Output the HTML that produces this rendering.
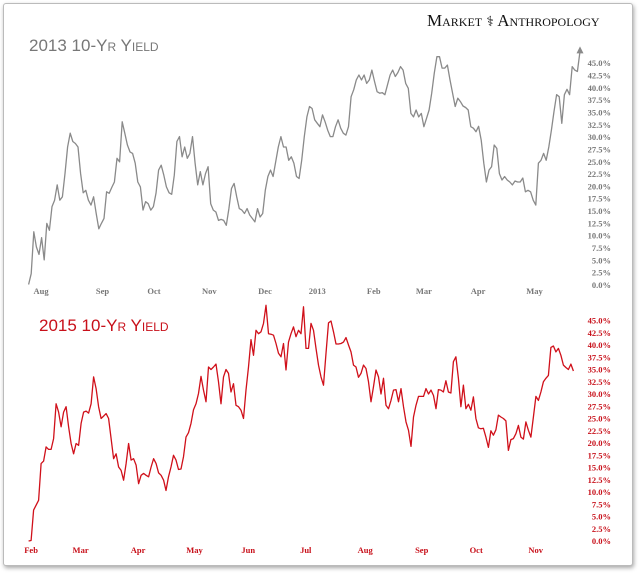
<!DOCTYPE html>
<html><head><meta charset="utf-8">
<style>
html,body{margin:0;padding:0;background:#fff;}
body{width:640px;height:573px;overflow:hidden;position:relative;font-family:"Liberation Sans",sans-serif;}
#frame{position:absolute;left:3px;top:3px;width:628px;height:561px;border:1px solid #bbb;border-radius:3px;box-shadow:1px 2px 4px rgba(0,0,0,0.35);background:#fff;}
svg{position:absolute;left:0;top:0;}
</style></head>
<body>
<div id="frame"></div>
<svg id="chart" width="640" height="573">
  <text x="427" y="26" font-family="'Liberation Serif',serif" font-size="17" fill="#111" style="font-variant:small-caps">Market <tspan font-size="14">⚕</tspan> Anthropology</text>
  <text x="29" y="51" font-size="17" fill="#777" style="font-variant:small-caps">2013 10-Yr Yield</text>
  <text x="39" y="331" font-size="17" fill="#c8101a" style="font-variant:small-caps">2015 10-Yr Yield</text>
</svg>
<script>
const yTicks = [0,2.5,5,7.5,10,12.5,15,17.5,20,22.5,25,27.5,30,32.5,35,37.5,40,42.5,45];
const topMonths = ["Aug","Sep","Oct","Nov","Dec","2013","Feb","Mar","Apr","May"];
const topMonthIdx = [4.8,28.4,48.2,69.5,90.9,111,132.7,152,172.8,194.5];
const botMonths = ["Feb","Mar","Apr","May","Jun","Jul","Aug","Sep","Oct","Nov"];
const botMonthIdx = [1,20.8,43.8,66.4,87.9,110.9,134.7,157.3,179.1,202.9];
const top2013 = [0.1,2.3,10.8,7.7,6.2,9.6,5.1,12.5,11.1,15.9,17.2,20.3,17.2,17.9,22.6,28.0,30.8,29.1,28.7,28.0,22.6,18.7,19.2,17.2,16.2,17.9,14.5,11.4,12.5,13.5,18.9,18.6,19.8,20.9,25.7,25.0,33.1,30.8,28.4,27.0,26.7,24.7,20.9,19.9,15.2,16.9,16.5,15.2,15.9,18.6,23.3,24.3,22.3,19.9,18.7,18.4,22.3,29.1,30.1,26.0,28.0,25.7,26.7,30.1,24.7,20.3,23.0,20.3,22.6,24.0,16.5,15.2,14.8,13.1,13.3,13.1,12.1,15.5,19.6,20.6,17.9,15.5,15.2,14.5,15.5,14.2,13.5,12.8,15.5,13.8,14.5,19.2,22.0,23.3,22.0,25.0,28.0,30.1,28.0,28.0,25.3,26.0,24.7,22.0,21.6,25.3,30.1,34.1,36.2,35.8,33.5,32.8,32.1,34.5,33.1,31.4,30.1,30.1,32.1,33.5,31.8,30.8,30.4,32.1,38.2,39.6,41.6,42.6,41.6,42.6,40.9,41.6,43.6,41.3,39.2,38.9,39.0,38.6,40.6,42.6,43.6,42.3,43.1,44.3,43.6,40.9,39.9,34.8,34.1,35.5,34.1,34.8,32.1,33.8,35.5,38.9,43.0,46.3,46.3,44.0,44.0,44.6,41.6,38.9,36.2,37.9,37.2,36.3,36.0,35.5,32.1,31.8,31.1,32.2,29.4,24.7,20.9,23.3,24.0,28.4,27.7,22.6,21.3,22.0,21.3,20.9,20.3,21.1,20.9,20.9,21.7,18.9,19.2,18.9,17.2,16.2,24.7,25.3,26.7,25.3,28.0,31.4,35.2,38.6,38.2,32.8,38.6,39.7,38.6,44.3,43.6,43.3,47.4];
const bot2015 = [0,0.1,6.3,7.3,8.3,15.8,16.3,19.2,18.7,18.7,20.9,28.0,26.3,23.3,26.3,27.4,23.3,19.9,17.8,19.9,19.5,24.0,26.3,26.5,26.1,28.0,33.5,31.1,27.4,25.0,25.5,26.0,25.0,20.9,16.8,17.8,15.1,14.4,12.4,15.8,19.9,16.5,16.8,15.5,11.7,13.4,13.8,13.4,13.1,15.1,16.8,15.8,13.9,13.4,12.4,10.3,13.1,15.1,17.5,16.5,14.6,14.7,17.2,21.2,22.1,24.0,26.8,28.0,30.1,33.6,30.8,28.4,35.5,35.0,35.5,36.1,32.5,28.0,33.5,35.0,34.2,30.4,32.1,27.7,27.4,26.7,25.0,30.8,35.5,41.1,37.9,43.0,42.3,42.7,44.4,48.1,42.3,42.2,42.0,40.3,38.3,37.6,40.3,34.9,40.6,42.3,43.7,41.7,43.0,42.3,47.8,39.3,39.3,44.4,43.0,39.3,35.9,33.5,31.8,38.3,44.5,44.9,42.7,40.2,40.2,40.3,40.6,41.5,40.0,38.6,35.9,35.5,33.4,34.2,35.9,35.2,32.5,28.4,31.5,34.9,33.5,30.0,33.2,27.7,27.0,28.7,30.8,30.9,28.4,31.1,27.4,24.3,22.6,19.3,25.3,27.7,29.5,29.5,29.5,31.1,30.0,30.8,29.7,27.0,30.9,30.8,30.4,32.7,30.4,30.2,36.6,37.6,33.2,27.4,31.8,27.0,27.9,26.7,29.4,25.0,23.1,22.9,23.0,21.2,19.1,22.5,21.6,22.7,25.7,25.3,25.0,24.5,18.5,20.7,20.9,21.9,23.6,21.2,20.8,24.3,22.6,21.2,25.3,29.5,28.7,30.4,32.5,33.2,33.8,39.5,39.8,38.6,39.3,37.9,35.9,35.4,35.0,36.1,34.7];

const svg = document.getElementById('chart');
const NS = 'http://www.w3.org/2000/svg';

function panel(cfg){
  const n = cfg.data.length;
  const xS = i => cfg.x0 + (cfg.x1 - cfg.x0) * i / (n - 1);
  const yS = v => cfg.y0 - v * cfg.pxPer;
  const g = document.createElementNS(NS,'g');
  
  
  svg.appendChild(g);
  yTicks.forEach(t => {
    const tx = document.createElementNS(NS,'text');
    
    
    tx.setAttribute('x', 611);
    tx.setAttribute('y', yS(t) + 3);
    tx.setAttribute('text-anchor','end');
    tx.setAttribute('font-family',"'Liberation Serif',serif");
    tx.setAttribute('font-weight','bold');
    tx.setAttribute('font-size','8.5');
    tx.setAttribute('fill', cfg.labelColor);
    tx.textContent = t.toFixed(1) + '%';
    g.appendChild(tx);
  });
  cfg.months.forEach((m,k) => {
    const tx = document.createElementNS(NS,'text');
    
    
    tx.setAttribute('x', xS(cfg.monthIdx[k]));
    tx.setAttribute('y', cfg.labelY);
    tx.setAttribute('text-anchor','middle');
    tx.setAttribute('font-family',"'Liberation Serif',serif");
    tx.setAttribute('font-weight','bold');
    tx.setAttribute('font-size','8.5');
    tx.setAttribute('fill', cfg.labelColor);
    tx.textContent = m;
    g.appendChild(tx);
  });
  const p = document.createElementNS(NS,'polyline');
  
  
  p.setAttribute('points', cfg.data.map((v,i) => xS(i).toFixed(1) + ',' + yS(v).toFixed(1)).join(' '));
  p.setAttribute('fill','none');
  p.setAttribute('stroke', cfg.color);
  p.setAttribute('stroke-width','1.3');
  p.setAttribute('stroke-linejoin','round');
  g.appendChild(p);
  return {xS, yS, n};
}

const topP = panel({name:'top-2013-panel', lineName:'yield-2013-line', data:top2013, x0:28.6, x1:580, y0:285, pxPer:4.93, months:topMonths, monthIdx:topMonthIdx, labelY:294, color:'#8a8a8a', labelColor:'#777'});
panel({name:'bottom-2015-panel', lineName:'yield-2015-line', data:bot2015, x0:28.6, x1:573.4, y0:541, pxPer:4.9, months:botMonths, monthIdx:botMonthIdx, labelY:553, color:'#d0101a', labelColor:'#c8101a'});

const ax = topP.xS(topP.n - 1), ay = topP.yS(top2013[top2013.length - 1]);
const arrow = document.createElementNS(NS,'polygon');


arrow.setAttribute('points', (ax-3.5)+','+(ay+2)+' '+(ax+3.5)+','+(ay+2)+' '+ax+','+(ay-5));
arrow.setAttribute('fill','#8a8a8a');
svg.appendChild(arrow);
</script>
</body></html>
